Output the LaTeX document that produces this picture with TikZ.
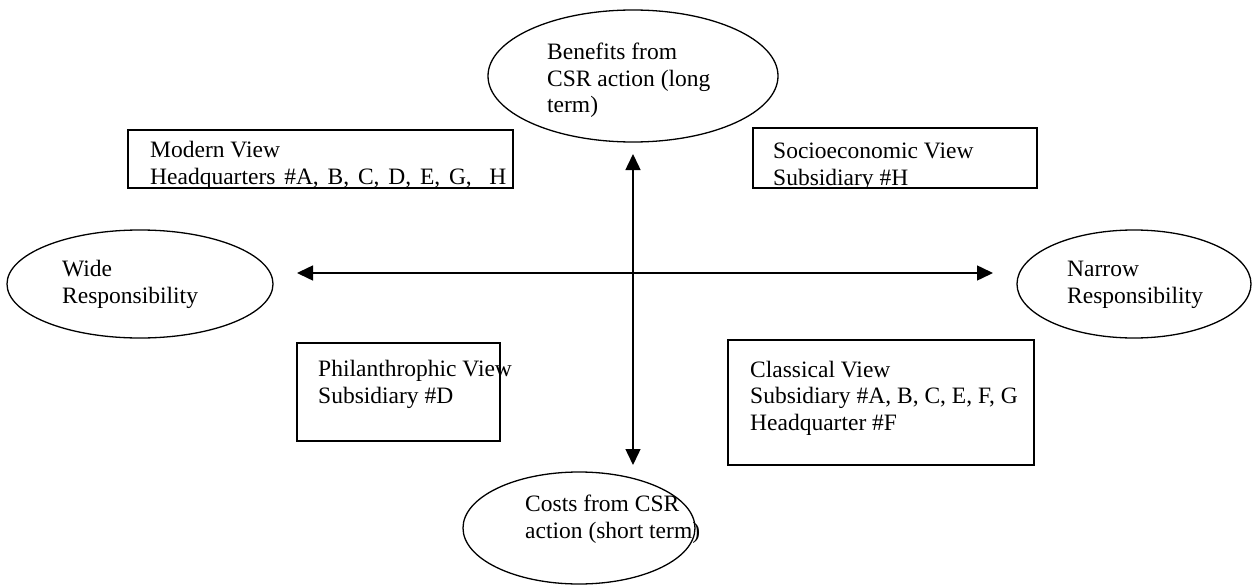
\documentclass[tikz,border=0pt]{standalone}
\usepackage{fontspec}
\setmainfont{Liberation Serif}
\usetikzlibrary{shapes.geometric,arrows.meta}
\tikzset{
  oval/.style={ellipse, draw, line width=1.3pt, inner sep=0pt},
  viewbox/.style={draw, line width=1.7pt},
  lbl/.style={anchor=base west, align=left, inner sep=0pt, font=\fontsize{23.5}{26.5}\selectfont},
  axis/.style={line width=1.5pt, {Triangle[length=16pt,width=15pt]}-{Triangle[length=16pt,width=15pt]}}
}
\begin{document}
\begin{tikzpicture}[x=1pt,y=-1pt]
\useasboundingbox (0,0) rectangle (1254,586);
% ellipses (text nodes anchored at the baseline of their last line)
\node[oval, minimum width=290pt, minimum height=132pt] (benefit) at (633,76) {};
\node[lbl] (tbenefit) at (547,113) {Benefits from\\CSR action (long\\term)};
\node[oval, minimum width=266pt, minimum height=108pt] (wide) at (140,284) {};
\node[lbl] (twide) at (62,303) {Wide\\Responsibility};
\node[oval, minimum width=234pt, minimum height=108pt] (narrow) at (1134,284) {};
\node[lbl] (tnarrow) at (1067,303) {Narrow\\Responsibility};
\node[oval, minimum width=232pt, minimum height=112pt] (cost) at (579,528) {};
\node[lbl] (tcost) at (525,538) {Costs from CSR\\action (short term)};
% boxes
\begin{scope}
\clip (128,130) rectangle (513,188);
\node[lbl] (tmodern) at (150,184) {Modern View\\{\spaceskip=8.8pt Headquarters \#A, B, C, D, E, G,\ \ H}};
\end{scope}
\draw[viewbox] (128,130) rectangle (513,188);
\begin{scope}
\clip (753,128) rectangle (1037,188);
\node[lbl] (tsocio) at (773,185) {Socioeconomic View\\Subsidiary \#H};
\end{scope}
\draw[viewbox] (753,128) rectangle (1037,188);
\draw[viewbox] (297,343) rectangle (500,441);
\node[lbl] (tphil) at (318,403) {Philanthrophic View\\Subsidiary \#D};
\draw[viewbox] (728,340) rectangle (1034,465);
\node[lbl] (tclass) at (750,430) {Classical View\\Subsidiary \#A, B, C, E, F, G\\Headquarter \#F};
% axes
\coordinate (hl) at (297,273);
\coordinate (hr) at (993,273);
\coordinate (vt) at (633,154);
\coordinate (vb) at (633,465);
\draw[axis] (hl) -- (hr);
\draw[axis] (vt) -- (vb);
\end{tikzpicture}
\end{document}
